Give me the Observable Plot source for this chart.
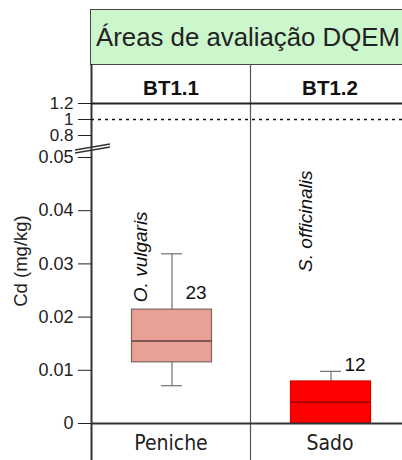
<!DOCTYPE html>
<html>
<head>
<meta charset="utf-8">
<script src="https://cdn.jsdelivr.net/npm/d3@7"></script>
<script src="https://cdn.jsdelivr.net/npm/@observablehq/plot@0.6"></script>
<style>
  html, body { margin: 0; padding: 0; background: #fff; }
  #chart { position: relative; width: 402px; height: 460px; overflow: hidden;
           font-family: "Liberation Sans", Arial, sans-serif; color: #222; }
  #chart svg { position: absolute; left: 0; top: 0; }
  #title { position: absolute; left: 90px; top: 9px; width: 330px; height: 56px; box-sizing: border-box;
           background: #ccf6cc; border: 1px solid #444; font-size: 25.8px; line-height: 54px;
           text-align: center; white-space: nowrap; padding-right: 14px; }
  #ylabel { position: absolute; left: 21px; top: 261px; transform: translate(-50%, -50%) rotate(-90deg);
            font-size: 18.5px; white-space: nowrap; }
</style>
</head>
<body>
<div id="chart">
  <div id="title">Áreas de avaliação DQEM</div>
  <div id="ylabel">Cd (mg/kg)</div>
</div>
<script>
// Cadmium in cephalopods per assessment area
const regions = ["BT1.1", "BT1.2"];
const sites = ["Peniche", "Sado"];
const species = ["O. vulgaris", "S. officinalis"];
const counts = [23, 12];
const whiskerLow = [0.0071, 0];
const q1 = [0.0115, 0];
const median = [0.0155, 0.0040];
const q3 = [0.0214, 0.0079];
const whiskerHigh = [0.0319, 0.0098];
const lowTicks = [0, 0.01, 0.02, 0.03, 0.04, 0.05];
const highTicks = [0.8, 1, 1.2];
const thresholds = [1];

const rows = sites.map((site, i) => ({
  site, region: regions[i], species: species[i], n: counts[i],
  lo: whiskerLow[i], q1: q1[i], med: median[i], q3: q3[i], hi: whiskerHigh[i]
}));

const boxFill = ["#e9a196", "#ff0000"];
const boxStroke = ["#7c6461", "#d40000"];
const medianStroke = ["#5e4040", "#9c0000"];
const whiskerStroke = "#707070";

const W = 402, H = 460;
const xRange = [91, 409];
const bw = (xRange[1] - xRange[0]) / sites.length;
const boxInset = {insetLeft: 40.5, insetRight: 38.5};
const capInset = {insetLeft: 70, insetRight: 68};
const xOpts = {type: "band", domain: sites, range: xRange, padding: 0, axis: null};
const plainNumber = d => String(d);
const common = {
  width: W, height: H, marginTop: 64, marginBottom: 0, marginLeft: 91, marginRight: 0,
  style: {background: "transparent", fontFamily: '"Liberation Sans", Arial, sans-serif', fontSize: "18px", color: "#222"}
};

// Lower segment of the broken axis: 0 – 0.05
const lower = Plot.plot({
  ...common,
  x: xOpts,
  y: {domain: [0, 0.05], range: [423, 157], ticks: lowTicks, tickFormat: plainNumber,
      tickSize: 13, tickPadding: 5, label: null},
  marks: [
    // panel separators
    Plot.ruleX(sites.slice(1), {x: d => d, dx: -bw / 2, stroke: "#555", strokeWidth: 1.2}),
    Plot.ruleX(sites.slice(0, 1), {x: d => d, dx: -bw / 2, stroke: "#333", strokeWidth: 2}),
    // whiskers
    ...rows.map(r => Plot.ruleX([r], {x: "site", y1: "q3", y2: "hi", dx: 1, stroke: whiskerStroke, strokeWidth: 1.2})),
    ...rows.map(r => Plot.ruleX([r], {x: "site", y1: "lo", y2: "q1", dx: 1, stroke: whiskerStroke, strokeWidth: 1.2})),
    ...rows.map(r => Plot.tickY([r], {x: "site", y: "hi", ...capInset, stroke: whiskerStroke, strokeWidth: 1.2})),
    ...rows.filter(r => r.lo > 0).map(r => Plot.tickY([r], {x: "site", y: "lo", ...capInset, stroke: whiskerStroke, strokeWidth: 1.2})),
    // boxes and medians
    ...rows.map((r, i) => Plot.rectY([r], {x: "site", y1: "q1", y2: "q3", ...boxInset, fill: boxFill[i], stroke: boxStroke[i], strokeWidth: 1.2})),
    ...rows.map((r, i) => Plot.tickY([r], {x: "site", y: "med", ...boxInset, stroke: medianStroke[i], strokeWidth: 1.5})),
    // baseline
    Plot.ruleY([0], {stroke: "#333", strokeWidth: 2}),
    // sample sizes
    Plot.text(rows, {x: "site", y: "q3", text: "n", dx: 25, dy: -17, fontSize: 19, fill: "#111"}),
    // species names
    Plot.text([rows[0]], {x: "site", y: () => 0.0228, text: "species", rotate: -90, textAnchor: "start",
      dx: -30, fontSize: 19, fontStyle: "italic", fill: "#111"}),
    Plot.text([rows[1]], {x: "site", y: () => 0.0285, text: "species", rotate: -90, textAnchor: "start",
      dx: -24, fontSize: 19, fontStyle: "italic", fill: "#111"}),
    // site names under each panel
    Plot.text(rows, {x: "site", text: "site", frameAnchor: "bottom", lineAnchor: "middle", dy: -17, fontSize: 21,
      fontFamily: '"Liberation Sans Narrow", "Arial Narrow", "DejaVu Sans Condensed", sans-serif', fill: "#222"})
  ]
});

// Upper segment of the broken axis: 0.8 – 1.2, with the panel headings
const upper = Plot.plot({
  ...common,
  style: {...common.style, fontSize: "17px"},
  x: xOpts,
  y: {domain: [0.8, 1.2], range: [135, 103], ticks: highTicks, tickFormat: plainNumber,
      tickSize: 13, tickPadding: 5, label: null},
  marks: [
    Plot.ruleY(thresholds, {stroke: "#111", strokeWidth: 1.5, strokeDasharray: "3,4"}),
    Plot.ruleY([1.2], {stroke: "#222", strokeWidth: 2}),
    Plot.text(rows, {x: "site", text: "region", frameAnchor: "top", lineAnchor: "middle", dy: 24,
      fontSize: 20.5, fontWeight: "bold", fill: "#111"})
  ]
});

const chart = document.getElementById("chart");
chart.appendChild(lower);
chart.appendChild(upper);

// Axis break symbol just above 0.05
const yb = lower.scale("y").apply(0.05);
const g = d3.select(upper).append("g").attr("stroke", "#333").attr("stroke-width", 1.3);
[[-7, -13], [-4, -10]].forEach(([a, b]) => {
  g.append("line").attr("x1", 75).attr("x2", 110).attr("y1", yb + a).attr("y2", yb + b);
});
</script>
</body>
</html>
